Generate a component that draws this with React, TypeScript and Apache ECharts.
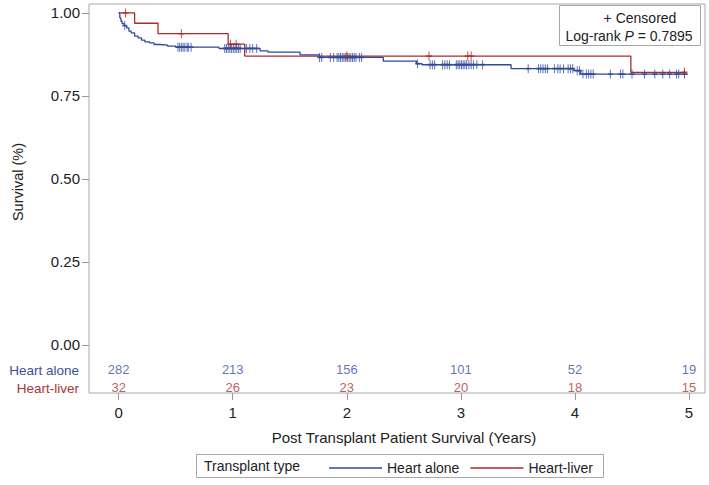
import React, { useEffect, useRef } from "react";
import * as echarts from "echarts";

// ---------------- data ----------------
const YEARS = [0, 1, 2, 3, 4, 5];
const Y_TICKS = [0, 0.25, 0.5, 0.75, 1];
const AT_RISK_HEART_ALONE = [282, 213, 156, 101, 52, 19];
const AT_RISK_HEART_LIVER = [32, 26, 23, 20, 18, 15];

// Kaplan-Meier step points (time in years, survival after that time)
const HEART_ALONE_TIME = [0, 0.01, 0.02, 0.03, 0.05, 0.07, 0.09, 0.11, 0.14, 0.17, 0.2, 0.23, 0.27, 0.31, 0.36, 0.43, 0.5, 0.88, 1.24, 1.31, 1.59, 1.76, 2.32, 2.61, 2.66, 3.44, 3.99, 4.05, 4.99];
const HEART_ALONE_SURV = [1, 0.985, 0.975, 0.968, 0.962, 0.955, 0.945, 0.94, 0.93, 0.925, 0.918, 0.913, 0.91, 0.905, 0.903, 0.9, 0.897, 0.893, 0.886, 0.882, 0.874, 0.866, 0.855, 0.847, 0.844, 0.832, 0.826, 0.816, 0.816];
const HEART_LIVER_TIME = [0, 0.14, 0.345, 0.96, 1.105, 4.49, 4.97];
const HEART_LIVER_SURV = [1, 0.969, 0.9375, 0.906, 0.87, 0.821, 0.821];

// censoring times
const HEART_ALONE_CENSOR = [
  0.053,
  0.52, 0.535, 0.55, 0.565, 0.58, 0.6, 0.61, 0.635,
  0.93, 0.945, 0.96, 0.975, 0.99, 1.005, 1.02, 1.035, 1.05, 1.065, 1.12, 1.15, 1.175, 1.21,
  1.76, 1.78, 1.855, 1.885, 1.915,
  1.93, 1.945, 1.96, 1.975, 1.99, 2.005, 2.02, 2.035, 2.05, 2.065, 2.08, 2.11, 2.13,
  2.62, 2.73, 2.75, 2.77, 2.84, 2.86, 2.88, 2.9,
  2.96, 2.975, 2.99, 3.005, 3.02, 3.035, 3.05, 3.07, 3.09, 3.11, 3.14, 3.19,
  3.59, 3.68, 3.7, 3.72, 3.74, 3.76, 3.82, 3.85, 3.87, 3.9, 3.94, 3.96, 3.98,
  4.02, 4.04, 4.07, 4.1, 4.12, 4.14, 4.16, 4.31, 4.4, 4.42, 4.5, 4.61, 4.7, 4.77, 4.83, 4.89, 4.91, 4.96,
];
const HEART_LIVER_CENSOR = [0.06, 0.55, 0.98, 1.03, 2.0, 2.72, 3.06, 3.09, 4.96];

const SERIES_NAMES = ["Heart alone", "Heart-liver"];
const LEGEND_TITLE = "Transplant type";
const X_TITLE = "Post Transplant Patient Survival (Years)";
const Y_TITLE = "Survival (%)";
const P_VALUE = "0.7895";

// ---------------- layout / style ----------------
const W = 709;
const H = 485;
const BLUE = "#2D4A9C";
const RED = "#B02A2A";
const BLUE_TEXT = "#3A4F9F";
const RED_TEXT = "#A83434";
const FONT = "'Liberation Sans', Arial, sans-serif";
const ROW_Y_ALONE = -0.0753;
const ROW_Y_LIVER = -0.1295;

function survAt(times: number[], surv: number[], t: number) {
  let s = surv[0];
  for (let i = 0; i < times.length; i++) {
    if (times[i] <= t) s = surv[i];
  }
  return s;
}

const PLUS = "path://M0,5 L10,5 M5,0 L5,10";

export default function App() {
  const ref = useRef<HTMLDivElement>(null);
  useEffect(() => {
    document.body.style.margin = "0";
    if (!ref.current) return;
    const chart = echarts.init(ref.current, undefined, { renderer: "svg" });

    const aloneLine = HEART_ALONE_TIME.map((t, i) => [t, HEART_ALONE_SURV[i]]);
    const liverLine = HEART_LIVER_TIME.map((t, i) => [t, HEART_LIVER_SURV[i]]);
    const aloneCens = HEART_ALONE_CENSOR.map((t) => [t, survAt(HEART_ALONE_TIME, HEART_ALONE_SURV, t)]);
    const liverCens = HEART_LIVER_CENSOR.map((t) => [t, survAt(HEART_LIVER_TIME, HEART_LIVER_SURV, t)]);
    const riskAlone = YEARS.map((y, i) => [y, ROW_Y_ALONE, AT_RISK_HEART_ALONE[i]]);
    const riskLiver = YEARS.map((y, i) => [y, ROW_Y_LIVER, AT_RISK_HEART_LIVER[i]]);

    const riskSeries = (name: string, data: number[][], color: string) => ({
      name,
      type: "scatter",
      data,
      symbol: "circle",
      symbolSize: 1,
      itemStyle: { color: "rgba(0,0,0,0)" },
      silent: true,
      z: 5,
      label: {
        show: true,
        position: "inside",
        formatter: (p: any) => String(p.value[2]),
        color,
        fontSize: 13,
        fontFamily: FONT,
      },
    });

    chart.setOption({
      animation: false,
      backgroundColor: "#fff",
      textStyle: { fontFamily: FONT },
      grid: {
        left: 89,
        top: 4,
        right: 4,
        bottom: 92,
        show: true,
        borderColor: "#a8a8a8",
        borderWidth: 1,
        backgroundColor: "transparent",
      },
      xAxis: {
        type: "value",
        min: -0.26,
        max: 5.14,
        splitLine: { show: false },
        axisLine: { show: false, onZero: false },
        axisTick: {
          show: true,
          customValues: YEARS,
          length: 7,
          lineStyle: { color: "#999" },
        },
        axisLabel: {
          customValues: YEARS,
          margin: 12,
          fontSize: 15,
          color: "#222",
          fontFamily: FONT,
        },
      },
      yAxis: {
        type: "value",
        min: -0.145,
        max: 1.027,
        splitLine: { show: false },
        axisLine: { show: false, onZero: false },
        axisTick: {
          show: true,
          customValues: Y_TICKS,
          length: 7,
          lineStyle: { color: "#999" },
        },
        axisLabel: {
          customValues: Y_TICKS,
          margin: 9,
          fontSize: 15,
          color: "#222",
          fontFamily: FONT,
          formatter: (v: number) => v.toFixed(2),
        },
      },
      legend: {
        data: SERIES_NAMES,
        left: 324,
        top: 456,
        icon: "rect",
        itemWidth: 53,
        itemHeight: 1.5,
        itemGap: 11,
        textStyle: { fontSize: 14, color: "#222", fontFamily: FONT },
        selectedMode: false,
      },
      graphic: [
        {
          type: "rect",
          shape: { x: 196.5, y: 454.5, width: 407, height: 23 },
          style: { fill: "#fff", stroke: "#a8a8a8", lineWidth: 1 },
          z: -1,
        },
        {
          type: "text",
          x: 204,
          y: 466,
          style: {
            text: LEGEND_TITLE,
            fontSize: 14,
            fontFamily: FONT,
            fill: "#222",
            align: "left",
            verticalAlign: "middle",
          },
        },
        {
          type: "rect",
          shape: { x: 559.5, y: 5.5, width: 141, height: 40 },
          style: { fill: "#fff", stroke: "#a8a8a8", lineWidth: 1 },
          z: 10,
        },
        {
          type: "text",
          x: 640,
          y: 18,
          z: 11,
          style: {
            text: "+ Censored",
            fontSize: 14,
            fontFamily: FONT,
            fill: "#222",
            align: "center",
            verticalAlign: "middle",
          },
        },
        {
          type: "text",
          x: 629,
          y: 36,
          z: 11,
          style: {
            text: "Log-rank {i|P} = " + P_VALUE,
            fontSize: 14,
            fontFamily: FONT,
            fill: "#222",
            align: "center",
            verticalAlign: "middle",
            rich: {
              i: { fontStyle: "italic", fontSize: 14, fontFamily: FONT, fill: "#222" },
            },
          },
        },
        {
          type: "text",
          x: 79,
          y: 370,
          style: {
            text: SERIES_NAMES[0],
            fontSize: 13.5,
            fontFamily: FONT,
            fill: BLUE_TEXT,
            align: "right",
            verticalAlign: "middle",
          },
        },
        {
          type: "text",
          x: 79,
          y: 388,
          style: {
            text: SERIES_NAMES[1],
            fontSize: 13.5,
            fontFamily: FONT,
            fill: RED_TEXT,
            align: "right",
            verticalAlign: "middle",
          },
        },
        {
          type: "text",
          x: 18,
          y: 182,
          rotation: Math.PI / 2,
          style: {
            text: Y_TITLE,
            fontSize: 14.5,
            fontFamily: FONT,
            fill: "#222",
            align: "center",
            verticalAlign: "middle",
          },
        },
        {
          type: "text",
          x: 404,
          y: 437,
          style: {
            text: X_TITLE,
            fontSize: 15,
            fontFamily: FONT,
            fill: "#222",
            align: "center",
            verticalAlign: "middle",
          },
        },
      ],
      series: [
        {
          name: SERIES_NAMES[0],
          type: "line",
          step: "end",
          data: aloneLine,
          showSymbol: false,
          symbol: "none",
          color: BLUE,
          lineStyle: { color: BLUE, width: 1.3 },
          z: 3,
        },
        {
          name: SERIES_NAMES[1],
          type: "line",
          step: "end",
          data: liverLine,
          showSymbol: false,
          symbol: "none",
          color: RED,
          lineStyle: { color: RED, width: 1.3 },
          z: 2,
        },
        {
          name: "alone-censor",
          type: "scatter",
          data: aloneCens,
          symbol: PLUS,
          symbolSize: [5, 9],
          itemStyle: { color: "none", borderColor: BLUE, borderWidth: 1.3 },
          z: 4,
        },
        {
          name: "liver-censor",
          type: "scatter",
          data: liverCens,
          symbol: PLUS,
          symbolSize: [6, 9],
          itemStyle: { color: "none", borderColor: RED, borderWidth: 1.3 },
          z: 5,
        },
        riskSeries("risk-alone", riskAlone, BLUE_TEXT),
        riskSeries("risk-liver", riskLiver, RED_TEXT),
      ],
    });
    return () => chart.dispose();
  }, []);
  return <div ref={ref} style={{ width: W, height: H }} />;
}
